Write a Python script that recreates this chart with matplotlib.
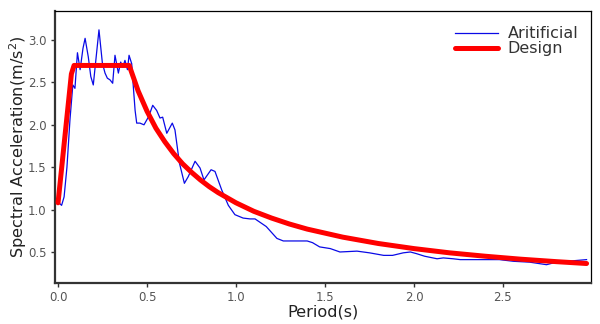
import numpy as np
import matplotlib
matplotlib.use("Agg")
import matplotlib.pyplot as plt

# artificial (matched) response spectrum
period_art = [0.0, 0.02, 0.034, 0.05, 0.067, 0.083, 0.095, 0.109, 0.124, 0.14,
              0.152, 0.17, 0.184, 0.198, 0.23, 0.249, 0.264, 0.277, 0.292, 0.307,
              0.32, 0.339, 0.352, 0.364, 0.376, 0.39, 0.399, 0.414, 0.423, 0.433,
              0.442, 0.46, 0.483, 0.51, 0.532, 0.554, 0.573, 0.588, 0.611, 0.642,
              0.657, 0.682, 0.71, 0.732, 0.77, 0.798, 0.82, 0.86, 0.882, 0.92,
              0.957, 0.994, 1.04, 1.079, 1.107, 1.17, 1.23, 1.266, 1.34, 1.40,
              1.43, 1.47, 1.53, 1.584, 1.68, 1.75, 1.83, 1.88, 1.94, 1.98,
              2.015, 2.06, 2.13, 2.165, 2.22, 2.26, 2.48, 2.56, 2.65, 2.745,
              2.80, 2.86, 2.97]
sa_art = [1.09, 1.05, 1.15, 1.5, 2.06, 2.47, 2.43, 2.85, 2.65, 2.9,
          3.02, 2.80, 2.57, 2.47, 3.12, 2.73, 2.61, 2.55, 2.53, 2.49,
          2.82, 2.61, 2.74, 2.68, 2.76, 2.65, 2.82, 2.72, 2.45, 2.17,
          2.02, 2.02, 2.0, 2.1, 2.23, 2.17, 2.08, 2.09, 1.90, 2.02,
          1.94, 1.55, 1.31, 1.39, 1.57, 1.49, 1.35, 1.47, 1.45, 1.23,
          1.05, 0.94, 0.90, 0.89, 0.89, 0.80, 0.66, 0.63, 0.63, 0.63,
          0.61, 0.56, 0.54, 0.50, 0.51, 0.49, 0.46, 0.46, 0.49, 0.50,
          0.48, 0.45, 0.42, 0.43, 0.42, 0.41, 0.41, 0.39, 0.38, 0.35,
          0.38, 0.39, 0.41]

# design spectrum
period_des = [0.0, 0.075, 0.09, 0.4, 0.45, 0.5, 0.55, 0.6, 0.65, 0.7, 0.75, 0.8,
              0.85, 0.9, 0.95, 1.0, 1.1, 1.2, 1.3, 1.4, 1.6, 1.8, 2.0, 2.2,
              2.4, 2.6, 2.8, 2.97]
sa_des = [1.08, 2.60, 2.70, 2.70, 2.40, 2.16, 1.96, 1.80, 1.66, 1.54, 1.44, 1.35,
          1.27, 1.20, 1.14, 1.08, 0.98, 0.90, 0.83, 0.77, 0.675, 0.60, 0.54, 0.49,
          0.45, 0.415, 0.386, 0.364]

x_ticks = [0.0, 0.5, 1.0, 1.5, 2.0, 2.5]
y_ticks = [0.5, 1.0, 1.5, 2.0, 2.5, 3.0]

plt.rcParams["font.family"] = ["DejaVu Sans"]

fig = plt.figure(figsize=(6.0, 3.24), dpi=100)
ax = fig.add_axes([0.0917, 0.1265, 0.8933, 0.8395])

ax.plot(period_art, sa_art, color="#0a0ae6", lw=0.9, label="Aritificial", zorder=2)
ax.plot(period_des, sa_des, color="#ff0000", lw=3.6, label="Design",
        solid_capstyle="round", solid_joinstyle="round", zorder=3)

ax.set_xlim(-0.017, 2.995)
ax.set_ylim(0.134, 3.342)
ax.set_xticks(x_ticks)
ax.set_xticklabels([f"{v:.1f}" for v in x_ticks])
ax.set_yticks(y_ticks)
ax.set_yticklabels([f"{v:.1f}" for v in y_ticks])
ax.tick_params(labelsize=8.5, labelcolor="#555555", length=3, width=1,
               color="#333333", pad=3)

for s in ("left", "bottom"):
    ax.spines[s].set_linewidth(1.6)
    ax.spines[s].set_color("#333333")
for s in ("top", "right"):
    ax.spines[s].set_linewidth(0.9)
    ax.spines[s].set_color("black")

ax.set_xlabel("Period(s)", fontsize=11.6, color="#222222", labelpad=0)
ax.set_ylabel("Spectral Acceleration(m/s$^2$)", fontsize=11.6, color="#222222",
              labelpad=-1)

leg = ax.legend(loc="upper left", bbox_to_anchor=(0.746, 0.944), frameon=False,
                fontsize=11.5, handlelength=2.7, handletextpad=0.6,
                labelspacing=0.0, borderpad=0, borderaxespad=0)
for t in leg.get_texts():
    t.set_color("#333333")

fig.savefig("out.png", dpi=100)
